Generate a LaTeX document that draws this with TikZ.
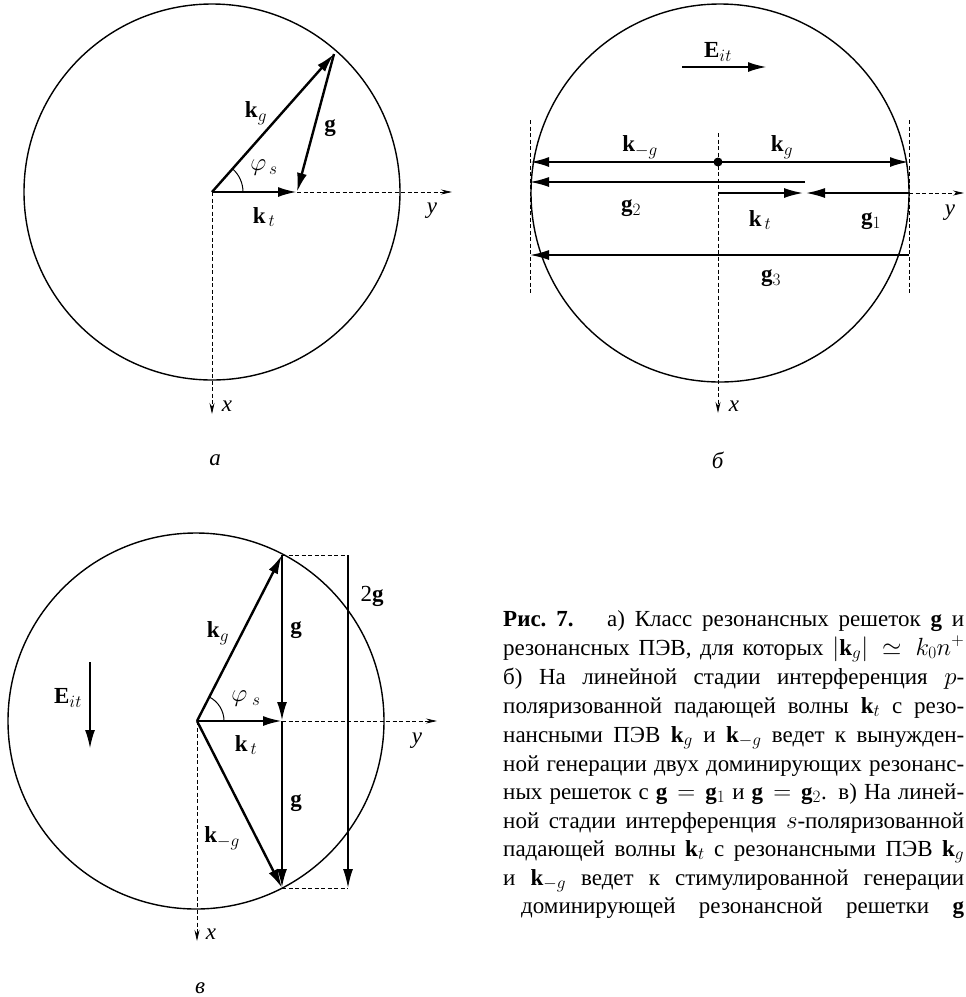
\documentclass[tikz,border=0pt]{standalone}
\usepackage{fontspec}
\setmainfont{Liberation Serif}
\usetikzlibrary{arrows.meta}
\newcommand{\vk}{\textbf{k}}
\newcommand{\vg}{\textbf{g}}
\begin{document}
\begin{tikzpicture}[x=1pt,y=-1pt,
  vec/.style={line width=2.4pt,-{Latex[length=19pt,width=10pt]}},
  vecthin/.style={line width=1.7pt,-{Latex[length=19pt,width=10pt]}},
  circ/.style={line width=1.4pt},
  axis/.style={line width=0.8pt,dash pattern=on 4pt off 2.5pt,-{Stealth[length=11pt,width=5pt]}},
  guide/.style={line width=0.8pt,dash pattern=on 4pt off 2.5pt},
  lbl/.style={font=\fontsize{23}{27}\selectfont,inner sep=0pt},
  capline/.style={font=\fontsize{23}{29}\selectfont,anchor=base west,inner sep=0pt}]
\fill[white] (0,0) rectangle (966,997);
\useasboundingbox (0,0) rectangle (966,997);

% ---------------- panel a ----------------
\coordinate (Oa) at (212,192);
\coordinate (KGa) at (334,54);
\coordinate (KTa) at (297,192);
\coordinate (Ya) at (452,192);
\coordinate (Xa) at (212,414);
\draw[circ] (Oa) circle[radius=188];
\draw[axis] (KTa) -- (Ya);
\draw[axis] (Oa) -- (Xa);
\draw[line width=1pt] (Oa) ++(31,0) arc[start angle=0,end angle=-48.5,radius=31];
\draw[vec] (Oa) -- (KGa);
\draw[vec] (KGa) -- (KTa);
\draw[vec] (Oa) -- (KTa);
\node[lbl] (lkga) at (256,113) {\vk$_g$};
\node[lbl] (lga) at (330,128) {\vg};
\node[lbl] (lphia) at (264,168) {$\varphi_{\,s}$};
\node[lbl] (lkta) at (264,217) {\vk$_{\,t}$};
\node[lbl] (lya) at (432,211) {\textit{y}};
\node[lbl] (lxa) at (227,406) {\textit{x}};
\node[lbl] (la) at (215,460) {\textit{а}};

% ---------------- panel b ----------------
\coordinate (Ob) at (720,193);
\coordinate (Db) at (718,162);
\coordinate (Lb1) at (530,162);
\coordinate (Rb1) at (909,162);
\coordinate (G2s) at (805,182);
\coordinate (G2e) at (530,182);
\coordinate (KTs) at (718,193);
\coordinate (KTe) at (803,193);
\coordinate (G1s) at (909,193);
\coordinate (G1e) at (806,193);
\coordinate (Yb) at (964,193);
\coordinate (G3s) at (909,255);
\coordinate (G3e) at (530,255);
\coordinate (XbT) at (718,133);
\coordinate (XbB) at (718,413);
\coordinate (GLt) at (530,120);
\coordinate (GLb) at (530,293);
\coordinate (GRt) at (909,120);
\coordinate (GRb) at (909,293);
\coordinate (EbS) at (682,67);
\coordinate (EbE) at (767,67);
\draw[circ] (Ob) circle[radius=189];
\draw[guide] (GLt) -- (GLb);
\draw[guide] (GRt) -- (GRb);
\draw[axis] (XbT) -- (XbB);
\draw[axis] (G1s) -- (Yb);
\draw[vec] (Db) -- (Lb1);
\draw[vec] (Db) -- (Rb1);
\draw[vecthin] (G2s) -- (G2e);
\draw[vecthin] (KTs) -- (KTe);
\draw[vecthin] (G1s) -- (G1e);
\draw[vecthin] (G3s) -- (G3e);
\fill (Db) circle[radius=4.5];
\draw[vec] (EbS) -- (EbE);
\node[lbl] (lEb) at (718,52) {\textbf{E}$_{it}$};
\node[lbl] (lkmg) at (640,147) {\vk$_{-g}$};
\node[lbl] (lkgb) at (782,147) {\vk$_g$};
\node[lbl] (lg2) at (631,208) {\vg$_2$};
\node[lbl] (lktb) at (760,220) {\vk$_{\,t}$};
\node[lbl] (lg1) at (871,221) {\vg$_1$};
\node[lbl] (lyb) at (950,213) {\textit{y}};
\node[lbl] (lxb) at (734,406) {\textit{x}};
\node[lbl] (lg3) at (771,278) {\vg$_3$};
\node[lbl] (lb) at (718,460) {\textit{б}};

% ---------------- panel v ----------------
\coordinate (Oc) at (197,721);
\coordinate (Cc) at (196,721);
\coordinate (KGc) at (282,555);
\coordinate (KTc) at (282,721);
\coordinate (KMc) at (282,888);
\coordinate (Rt) at (348,555);
\coordinate (Rb) at (348,888);
\coordinate (Yc) at (437,721);
\coordinate (Xc) at (197,941);
\coordinate (EcS) at (90,662);
\coordinate (EcE) at (90,749);
\draw[circ] (Cc) circle[radius=188];
\draw[guide] (KGc) -- (Rt);
\draw[guide] (KMc) -- (Rb);
\draw[axis] (KTc) -- (Yc);
\draw[axis] (Oc) -- (Xc);
\draw[line width=1pt] (Oc) ++(27,0) arc[start angle=0,end angle=-63,radius=27];
\draw[vec] (Oc) -- (KGc);
\draw[vec] (KGc) -- (KTc);
\draw[vec] (KTc) -- (KMc);
\draw[vec] (Oc) -- (KTc);
\draw[vec] (Oc) -- (KMc);
\draw[vecthin] (Rt) -- (Rb);
\draw[vec] (EcS) -- (EcE);
\node[lbl] (lEc) at (68,698) {\textbf{E}$_{it}$};
\node[lbl] (lkgc) at (218,633) {\vk$_g$};
\node[lbl] (lgc1) at (296,630) {\vg};
\node[lbl] (lphic) at (246,699) {$\varphi_{\;s}$};
\node[lbl] (lktc) at (246,745) {\vk$_{\,t}$};
\node[lbl] (lgc2) at (296,803) {\vg};
\node[lbl] (lkmc) at (222,838) {\vk$_{-g}$};
\node[lbl] (l2g) at (372,596) {2\vg};
\node[lbl] (lyc) at (417,741) {\textit{y}};
\node[lbl] (lxc) at (211,934) {\textit{x}};
\node[lbl] (lc) at (200,988) {\textit{в}};

% ---------------- caption ----------------
\node[capline] (c1) at (503,626) {\makebox[461pt][s]{\textbf{Рис.~7.}\hspace{0.6em} а) Класс резонансных решеток \textbf{g} и}};
\node[capline] (c2) at (503,655) {\makebox[461pt][s]{резонансных ПЭВ, для которых $|\mathbf{k}_g|\simeq k_0n^{+}$}};
\node[capline] (c3) at (503,684) {\makebox[461pt][s]{б) На линейной стадии интерференция $p$-}};
\node[capline] (c4) at (503,713) {\makebox[461pt][s]{поляризованной падающей волны $\mathbf{k}_t$ с резо-}};
\node[capline] (c5) at (503,742) {\makebox[461pt][s]{нансными ПЭВ $\mathbf{k}_g$ и $\mathbf{k}_{-g}$ ведет к вынужден-}};
\node[capline] (c6) at (503,771) {\makebox[461pt][s]{ной генерации двух доминирующих резонанс-}};
\node[capline] (c7) at (503,799) {\makebox[461pt][s]{ных решеток с $\mathbf{g}=\mathbf{g}_1$ и $\mathbf{g}=\mathbf{g}_2$. в) На линей-}};
\node[capline] (c8) at (503,828) {\makebox[461pt][s]{ной стадии интерференция $s$-поляризованной}};
\node[capline] (c9) at (503,856) {\makebox[461pt][s]{падающей волны $\mathbf{k}_t$ с резонансными ПЭВ $\mathbf{k}_g$}};
\node[capline] (c10) at (503,885) {\makebox[461pt][s]{и $\mathbf{k}_{-g}$ ведет к стимулированной генерации}};
\node[capline] (c11) at (521,913) {\makebox[443pt][s]{доминирующей резонансной решетки \textbf{g}}};
\end{tikzpicture}
\end{document}
